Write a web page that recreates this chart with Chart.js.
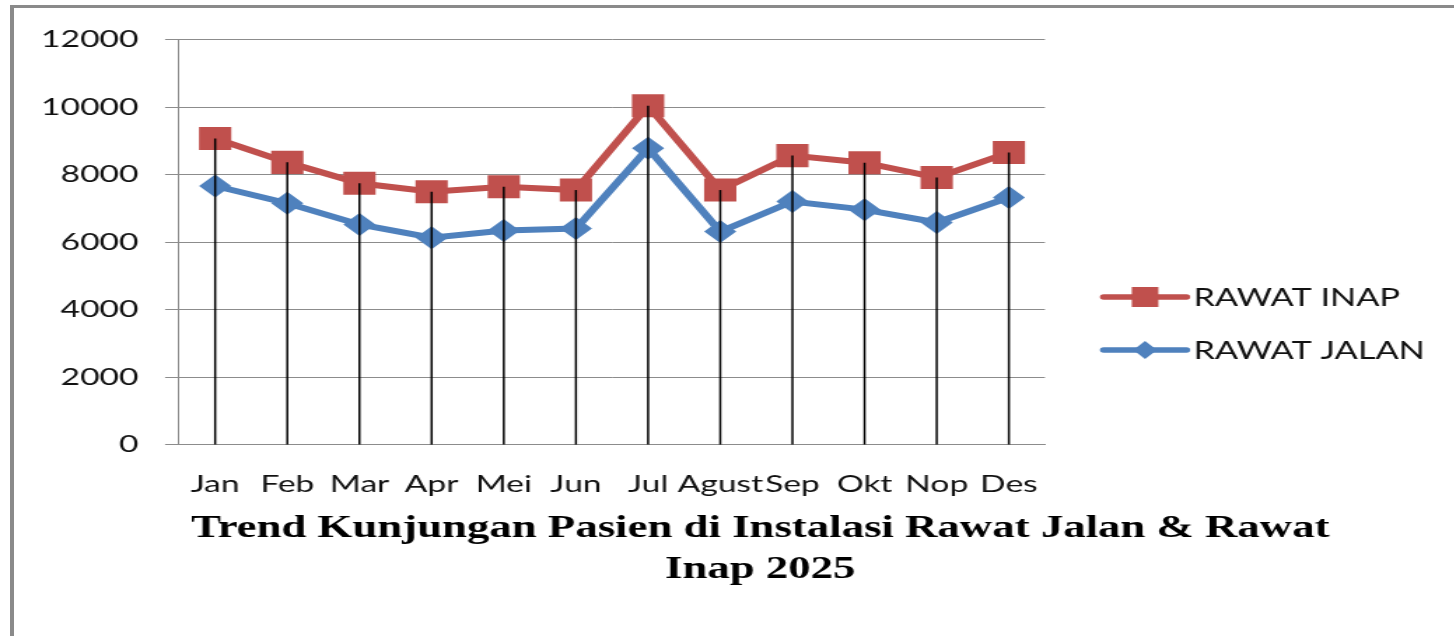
<!DOCTYPE html>
<html>
<head>
<meta charset="utf-8">
<script src="https://cdn.jsdelivr.net/npm/chart.js"></script>
<style>
  html, body { margin: 0; padding: 0; background: #fff; overflow: hidden; }
  #frame {
    position: absolute; left: 10px; top: 5px; width: 1444px; height: 631px;
    border-left: 4px solid #8a8a8a; border-top: 3px solid #8a8a8a;
  }
  /* the reference is stretched sideways, so the canvas is too */
  #wrap {
    position: absolute; left: 0; top: 0; width: 1039px; height: 636px;
    transform: scaleX(1.4); transform-origin: 0 0;
  }
</style>
</head>
<body>
<div id="frame"></div>
<div id="wrap"><canvas id="trend" width="1039" height="636"></canvas></div>
<script>
// Data
const months = ['Jan', 'Feb', 'Mar', 'Apr', 'Mei', 'Jun', 'Jul', 'Agust', 'Sep', 'Okt', 'Nop', 'Des'];
const rawatInap = [9070, 8360, 7740, 7490, 7640, 7540, 10040, 7540, 8560, 8350, 7910, 8650];
const rawatJalan = [7660, 7150, 6520, 6130, 6340, 6400, 8780, 6310, 7200, 6960, 6580, 7320];
const yMin = 0, yMax = 12000, yStep = 2000;
const titleLines = ['Trend Kunjungan Pasien di Instalasi Rawat Jalan & Rawat', 'Inap 2025'];

const RED = '#C0504D';
const BLUE = '#4F81BD';
const GRID = '#8c8c8c';

// Black drop lines from the top point of each month down to the axis
const dropLines = {
    id: 'dropLines',
    afterDatasetsDraw(chart) {
        const ctx = chart.ctx;
        const bottom = chart.chartArea.bottom;
        const metas = chart.getSortedVisibleDatasetMetas();
        ctx.save();
        ctx.strokeStyle = '#000';
        ctx.lineWidth = 1.5;
        months.forEach((m, i) => {
            let top = bottom;
            let x = 0;
            metas.forEach(meta => {
                const pt = meta.data[i];
                if (pt.y < top) { top = pt.y; x = pt.x; }
            });
            ctx.beginPath();
            ctx.moveTo(x, top);
            ctx.lineTo(x, bottom);
            ctx.stroke();
        });
        ctx.restore();
    }
};

// Legend with a line + marker sample, as in the reference
const lineLegend = {
    id: 'lineLegend',
    afterDraw(chart) {
        const ctx = chart.ctx;
        const x0 = chart.chartArea.right + 42;
        const rows = [297, 350];
        ctx.save();
        chart.data.datasets.forEach((ds, i) => {
            const y = rows[i];
            ctx.strokeStyle = ds.borderColor;
            ctx.lineWidth = 5.5;
            ctx.lineCap = 'round';
            ctx.beginPath();
            ctx.moveTo(x0, y);
            ctx.lineTo(x0 + 59, y);
            ctx.stroke();
            ctx.fillStyle = ds.borderColor;
            const cx = x0 + 29.5;
            if (ds.pointStyle === 'rect') {
                ctx.fillRect(cx - 9.5, y - 10, 19, 20);
            } else {
                ctx.beginPath();
                ctx.moveTo(cx, y - 9);
                ctx.lineTo(cx + 8.5, y);
                ctx.lineTo(cx, y + 9);
                ctx.lineTo(cx - 8.5, y);
                ctx.closePath();
                ctx.fill();
            }
            ctx.fillStyle = '#111';
            ctx.font = '24.5px Lato';
            ctx.textAlign = 'left';
            ctx.textBaseline = 'middle';
            ctx.fillText(ds.label, x0 + 64, y + 1);
        });
        ctx.restore();
    }
};

const data = {
    labels: months,
    datasets: [{
        label: 'RAWAT INAP',
        data: rawatInap,
        borderColor: RED,
        backgroundColor: RED,
        borderWidth: 6,
        pointStyle: 'rect',
        pointRadius: 16.3,
        pointBorderWidth: 0,
        pointBackgroundColor: RED,
        order: 1
    }, {
        label: 'RAWAT JALAN',
        data: rawatJalan,
        borderColor: BLUE,
        backgroundColor: BLUE,
        borderWidth: 6,
        pointStyle: 'rectRot',
        pointRadius: 11.5,
        pointBorderWidth: 0,
        pointBackgroundColor: BLUE,
        order: 2
    }]
};

const config = {
    type: 'line',
    data: data,
    options: {
        responsive: false,
        animation: false,
        // negative right padding moves the centred title to where it sits in the reference
        layout: { padding: { left: 30, right: -17, top: 39.5, bottom: 45.5 } },
        plugins: {
            legend: { display: false },
            tooltip: { enabled: false },
            title: {
                display: true,
                position: 'bottom',
                text: titleLines,
                color: '#000',
                font: { family: '"Liberation Serif", "Times New Roman", serif', size: 32, weight: 'bold', lineHeight: 1.28 },
                padding: { top: 0, bottom: 0 }
            }
        },
        scales: {
            x: {
                offset: true,
                grid: { display: false, drawTicks: false, tickLength: 0 },
                border: { display: true, color: GRID, width: 1 },
                ticks: {
                    color: '#111',
                    padding: 25,
                    maxRotation: 0,
                    autoSkip: false,
                    font: { family: 'Lato', size: 24, lineHeight: 1.2 }
                },
                afterFit: (s) => { s.height = 64; }
            },
            y: {
                min: yMin,
                max: yMax,
                grid: { color: GRID, lineWidth: 1, tickLength: 10 },
                border: { display: true, color: GRID, width: 1 },
                ticks: {
                    stepSize: yStep,
                    color: '#111',
                    padding: 19,
                    font: { family: 'Lato', size: 24 },
                    callback: (v) => String(v)
                },
                afterFit: (s) => { s.width = 97.9; }
            },
            // empty right-hand scale that only keeps room for the legend
            yRoom: {
                type: 'linear',
                position: 'right',
                grid: { display: false, drawTicks: false },
                border: { display: false },
                ticks: { display: false },
                afterFit: (s) => { s.width = 309.6; }
            }
        }
    },
    plugins: [dropLines, lineLegend]
};

const trendChart = new Chart(document.getElementById('trend'), config);
</script>
</body>
</html>
